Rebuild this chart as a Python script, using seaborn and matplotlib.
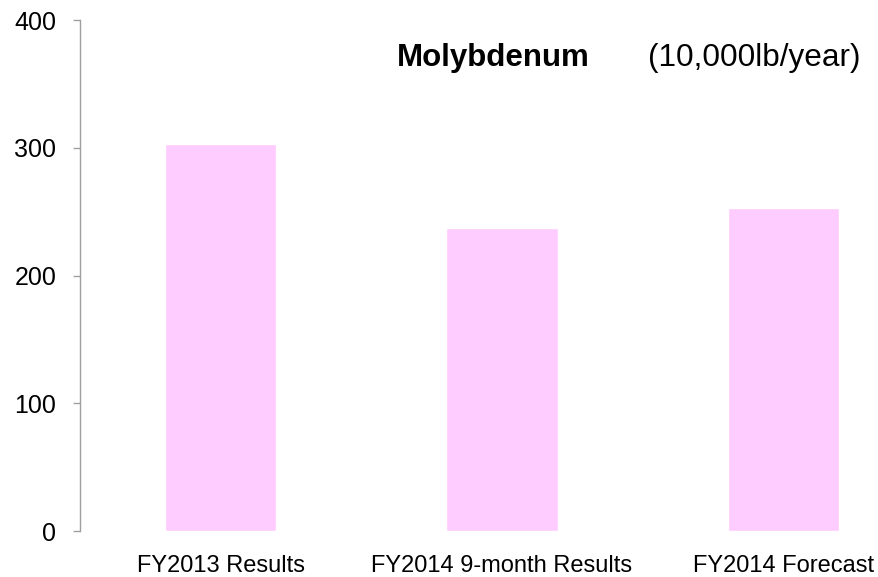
import matplotlib
matplotlib.use("Agg")
import pandas as pd
import seaborn as sns
import matplotlib.pyplot as plt

categories = ["FY2013 Results", "FY2014 9-month Results", "FY2014 Forecast"]
values = [303, 237, 253]
yticks = [0, 100, 200, 300, 400]

df = pd.DataFrame({"period": categories, "volume": values})

sns.set_style("white")
plt.rcParams["font.family"] = ["Liberation Sans", "DejaVu Sans"]
plt.rcParams["text.color"] = "black"
plt.rcParams["xtick.color"] = "black"
plt.rcParams["ytick.color"] = "black"

fig = plt.figure(figsize=(8.79, 5.77), dpi=100)
ax = fig.add_axes([0.091, 0.0797, 0.909, 0.8856])

sns.barplot(data=df, x="period", y="volume", color="#FFCCFF", saturation=1,
            width=0.395, ax=ax)

ax.set_xlim(-0.5, 2.34)
ax.set_ylim(0, 400)
ax.set_yticks(yticks)
ax.set_xlabel("")
ax.set_ylabel("")

for side in ["top", "right", "bottom"]:
    ax.spines[side].set_visible(False)
ax.spines["left"].set_color("#a0a0a0")
ax.spines["left"].set_linewidth(1.0)

ax.tick_params(axis="y", length=5, width=1.0, color="#a0a0a0", labelcolor="black",
               pad=12, labelsize=18, left=True)
ax.tick_params(axis="x", length=0, pad=17, labelsize=17, labelcolor="black")

fig.text(0.4516, 0.899, "Molybdenum", fontsize=22.5, fontweight="bold",
         va="center", ha="left", color="black")
fig.text(0.737, 0.899, "(10,000lb/year)", fontsize=22.7, va="center", ha="left",
         color="black")

plt.savefig("out.png", dpi=100)
